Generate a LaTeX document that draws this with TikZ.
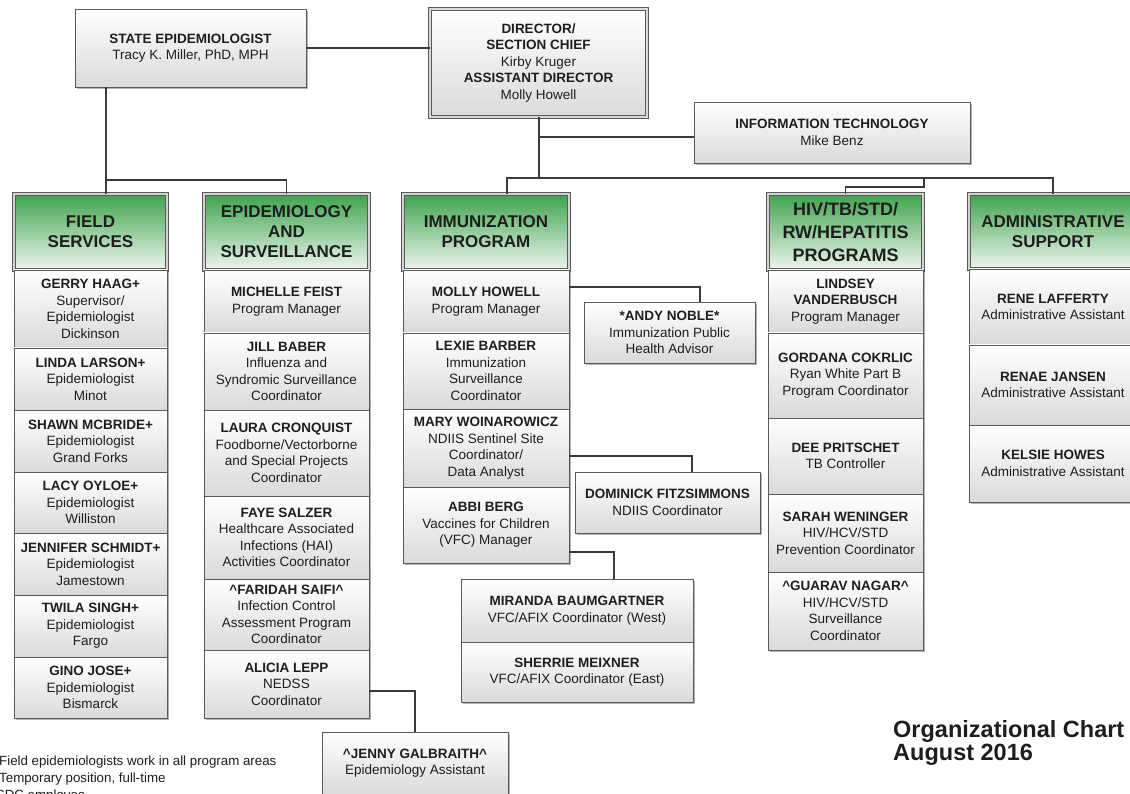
\documentclass[tikz,border=0pt]{standalone}
\usepackage{fontspec}
\setmainfont{Liberation Sans}
\usetikzlibrary{shadows}
\definecolor{txt}{HTML}{1E1E1E}
\definecolor{bline}{HTML}{5A5A5A}
\definecolor{cline}{HTML}{3A3A3A}
\definecolor{gtop}{HTML}{3FA34D}
\definecolor{gbot}{HTML}{EEF6EE}
\definecolor{boxbot}{HTML}{DADADA}
\tikzset{
  base/.style={inner sep=0pt, outer sep=0pt, align=center, text=txt,
    font=\fontsize{13.5}{16.5}\selectfont, draw=bline, line width=0.8pt},
  graybox/.style={base, top color=white, bottom color=boxbot,
    drop shadow={shadow xshift=1.6pt, shadow yshift=-1.6pt, opacity=0.3, fill=black}},
  dblbox/.style={graybox, double=gray!30, double distance=1.6pt},
  hdr/.style={base, top color=gtop, bottom color=gbot, double=gray!35, double distance=1.6pt,
    font=\fontsize{17}{20}\selectfont\bfseries,
    drop shadow={shadow xshift=1.6pt, shadow yshift=-1.6pt, opacity=0.3, fill=black}},
  hivhdr/.style={hdr, font=\fontsize{18}{23}\selectfont\bfseries},
  item/.style={graybox},
  conn/.style={draw=cline, line width=1.6pt},
  note/.style={text=txt, font=\fontsize{13.3}{17}\selectfont, inner sep=0pt, anchor=base west},
  ttl/.style={text=txt, font=\fontsize{23.5}{23}\selectfont\bfseries, inner sep=0pt, anchor=base west}
}
\newcommand\crt{\textasciicircum}
% #1 style, #2 x1, #3 y1, #4 x2, #5 y2, #6 name, #7 text
\newcommand\bx[7]{\node[#1, minimum width=#4pt-#2pt, minimum height=#5pt-#3pt] (#6) at ({(#2+#4)/2},{(#3+#5)/2}) {#7};}
\begin{document}
\begin{tikzpicture}[x=1pt,y=-1pt]
\useasboundingbox (0,0) rectangle (1130,794);
\fill[white] (0,0) rectangle (1130,794);
\clip (0,0) rectangle (1130,794);

% top level
\bx{graybox}{75}{9}{306}{87}{state}{\textbf{STATE EPIDEMIOLOGIST}\\Tracy K. Miller, PhD, MPH}
\bx{dblbox}{430}{9}{647}{117}{dir}{\textbf{DIRECTOR/}\\\textbf{SECTION CHIEF}\\Kirby Kruger\\\textbf{ASSISTANT DIRECTOR}\\Molly Howell}
\bx{graybox}{694}{102}{970}{163}{it}{\textbf{INFORMATION TECHNOLOGY}\\Mike Benz}

% field services
\bx{hdr}{14}{194}{167}{270}{fs}{FIELD\\SERVICES}
\bx{item}{14}{270}{167}{348}{gerry}{\textbf{GERRY HAAG+}\\Supervisor/\\Epidemiologist\\Dickinson}
\bx{item}{14}{348}{167}{410}{linda}{\textbf{LINDA LARSON+}\\Epidemiologist\\Minot}
\bx{item}{14}{410}{167}{472}{shawn}{\textbf{SHAWN MCBRIDE+}\\Epidemiologist\\Grand Forks}
\bx{item}{14}{472}{167}{533}{lacy}{\textbf{LACY OYLOE+}\\Epidemiologist\\Williston}
\bx{item}{14}{533}{167}{595}{jennifer}{\textbf{JENNIFER SCHMIDT+}\\Epidemiologist\\Jamestown}
\bx{item}{14}{595}{167}{657}{twila}{\textbf{TWILA SINGH+}\\Epidemiologist\\Fargo}
\bx{item}{14}{657}{167}{718}{gino}{\textbf{GINO JOSE+}\\Epidemiologist\\Bismarck}

% epidemiology and surveillance
\bx{hdr}{204}{194}{369}{270}{es}{EPIDEMIOLOGY\\AND\\SURVEILLANCE}
\bx{item}{204}{270}{369}{333}{michelle}{\textbf{MICHELLE FEIST}\\Program Manager}
\bx{item}{204}{333}{369}{410}{jill}{\textbf{JILL BABER}\\Influenza and\\Syndromic Surveillance\\Coordinator}
\bx{item}{204}{410}{369}{496}{laura}{\textbf{LAURA CRONQUIST}\\Foodborne/Vectorborne\\and Special Projects\\Coordinator}
\bx{item}{204}{496}{369}{579}{faye}{\textbf{FAYE SALZER}\\Healthcare Associated\\Infections (HAI)\\Activities Coordinator}
\bx{item}{204}{579}{369}{650}{faridah}{\textbf{\crt FARIDAH SAIFI\crt}\\Infection Control\\Assessment Program\\Coordinator}
\bx{item}{204}{650}{369}{718}{alicia}{\textbf{ALICIA LEPP}\\NEDSS\\Coordinator}

% immunization
\bx{hdr}{403}{194}{569}{270}{im}{IMMUNIZATION\\PROGRAM}
\bx{item}{403}{270}{569}{333}{molly}{\textbf{MOLLY HOWELL}\\Program Manager}
\bx{item}{403}{333}{569}{409}{lexie}{\textbf{LEXIE BARBER}\\Immunization\\Surveillance\\Coordinator}
\bx{item}{403}{409}{569}{487}{mary}{\textbf{MARY WOINAROWICZ}\\NDIIS Sentinel Site\\Coordinator/\\Data Analyst}
\bx{item}{403}{487}{569}{563}{abbi}{\textbf{ABBI BERG}\\Vaccines for Children\\(VFC) Manager}

% side boxes
\bx{graybox}{584}{302}{755}{363}{andy}{\textbf{*ANDY NOBLE*}\\Immunization Public\\Health Advisor}
\bx{graybox}{575}{472}{760}{533}{dom}{\textbf{DOMINICK FITZSIMMONS}\\NDIIS Coordinator}
\bx{graybox}{461}{579}{693}{642}{miranda}{\textbf{MIRANDA BAUMGARTNER}\\VFC/AFIX Coordinator (West)}
\bx{graybox}{461}{642}{693}{702}{sherrie}{\textbf{SHERRIE MEIXNER}\\VFC/AFIX Coordinator (East)}
\bx{graybox}{322}{732}{508}{794}{jenny}{\textbf{\crt JENNY GALBRAITH\crt}\\Epidemiology Assistant}

% HIV
\bx{hivhdr}{768}{194}{923}{270}{hiv}{HIV/TB/STD/\\RW/HEPATITIS\\PROGRAMS}
\bx{item}{768}{270}{923}{333}{lindsey}{\textbf{LINDSEY}\\\textbf{VANDERBUSCH}\\Program Manager}
\bx{item}{768}{333}{923}{418}{gordana}{\textbf{GORDANA COKRLIC}\\Ryan White Part B\\Program Coordinator}
\bx{item}{768}{418}{923}{494}{dee}{\textbf{DEE PRITSCHET}\\TB Controller}
\bx{item}{768}{494}{923}{572}{sarah}{\textbf{SARAH WENINGER}\\HIV/HCV/STD\\Prevention Coordinator}
\bx{item}{768}{572}{923}{650}{guarav}{\textbf{\crt GUARAV NAGAR\crt}\\HIV/HCV/STD\\Surveillance\\Coordinator}

% admin
\bx{hdr}{969}{194}{1137}{269}{adm}{ADMINISTRATIVE\\SUPPORT}
\bx{item}{969}{269}{1137}{345}{rene}{\textbf{RENE LAFFERTY}\\Administrative Assistant}
\bx{item}{969}{345}{1137}{425}{renae}{\textbf{RENAE JANSEN}\\Administrative Assistant}
\bx{item}{969}{425}{1137}{502}{kelsie}{\textbf{KELSIE HOWES}\\Administrative Assistant}

% connectors
\coordinate (jF) at (106,180);
\draw[conn] (state.south -| jF) -- (jF) -| (es.north);
\draw[conn] (jF) -- (jF |- fs.north);
\draw[conn] (state.east) -- (state.east -| dir.west);
\coordinate (jD) at (539,178);
\coordinate (jIT) at (539,137);
\draw[conn] (dir.south -| jD) -- (jD);
\draw[conn] (jIT) -- (jIT -| it.west);
\coordinate (jI) at (507,178);
\draw[conn] (jI |- im.north) -- (jI) -- (jI -| adm.north) -- (adm.north);
\coordinate (jH) at (924,187);
\draw[conn] (jH |- jD) -- (jH) -| (hiv.north);
\coordinate (kA) at (700,287);
\draw[conn] (molly.east |- kA) -| (kA |- andy.north);
\coordinate (kD) at (692,456);
\draw[conn] (mary.east |- kD) -| (kD |- dom.north);
\coordinate (kM) at (614,552);
\draw[conn] (abbi.east |- kM) -| (kM |- miranda.north);
\coordinate (kJ) at (415,691);
\draw[conn] (alicia.east |- kJ) -| (kJ |- jenny.north);

% notes and title
\node[note] (n1) at (-1,765) {\llap{+}Field epidemiologists work in all program areas};
\node[note] (n2) at (-1,782) {\llap{*}Temporary position, full-time};
\node[note] (n3) at (-5,799) {\llap{\crt}CDC employee};
\node[ttl] (t1) at (893,737) {Organizational Chart};
\node[ttl] (t2) at (893,760) {August 2016};
\end{tikzpicture}
\end{document}
